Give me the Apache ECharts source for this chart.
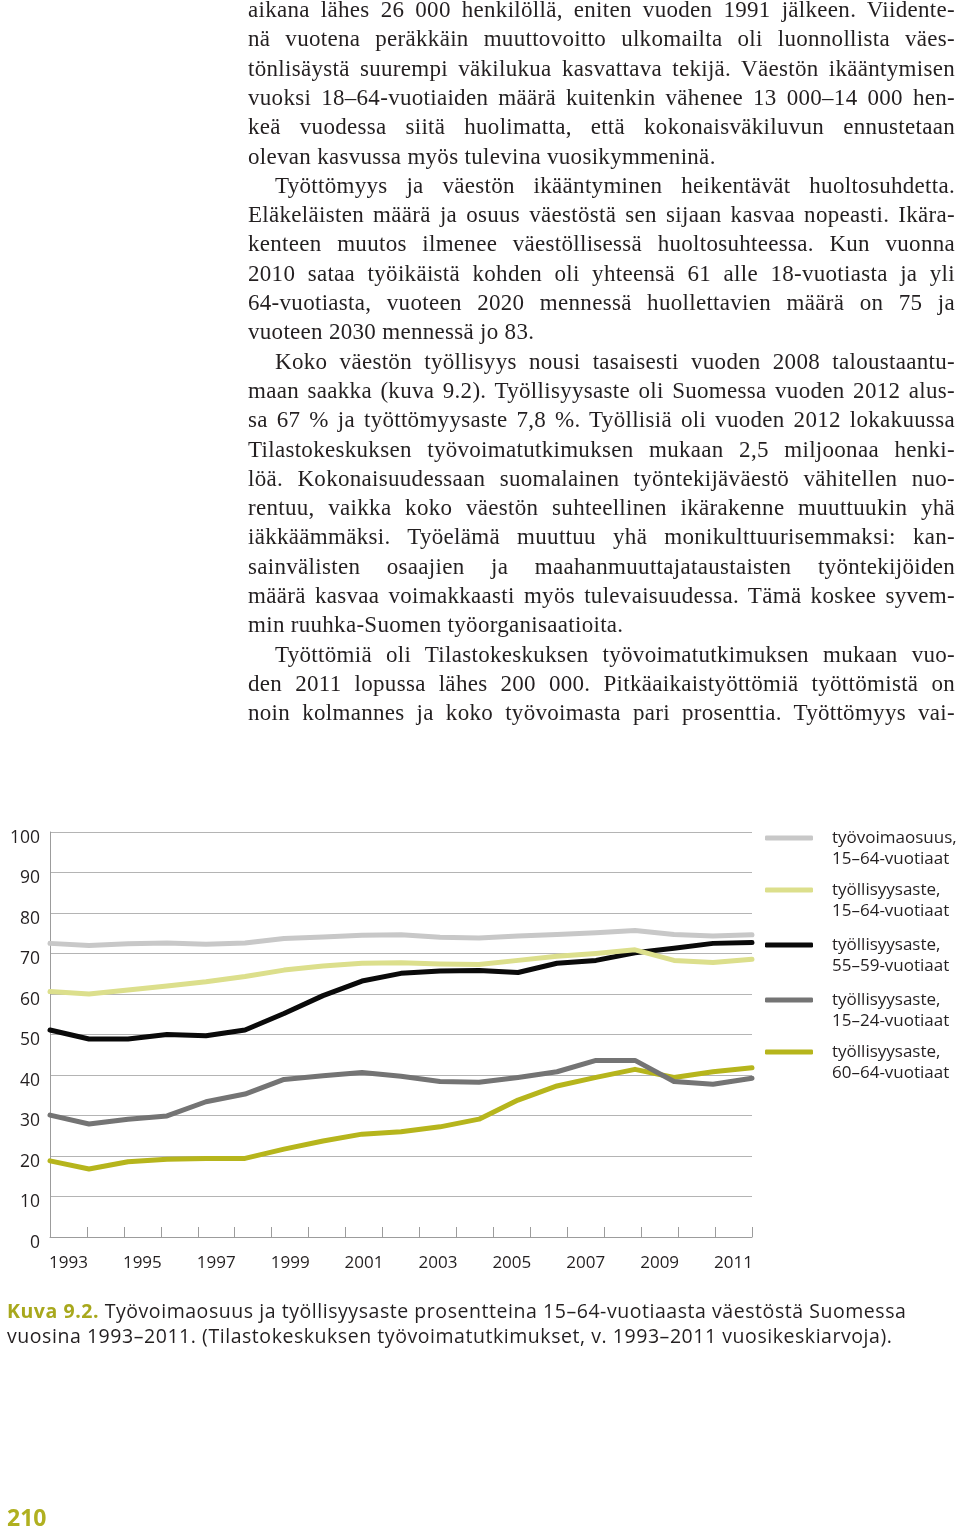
<!DOCTYPE html>
<html>
<head>
<meta charset="utf-8">
<script src="https://cdn.jsdelivr.net/npm/echarts@6/dist/echarts.min.js"></script>
<style>
html,body{margin:0;padding:0;background:#fff;}
#page{position:relative;width:960px;height:1528px;overflow:hidden;background:#fff;}
#chart{position:absolute;left:0;top:0;width:960px;height:1528px;}
.bl{position:absolute;white-space:nowrap;font-family:"Liberation Serif","Times New Roman",serif;font-size:23px;letter-spacing:0.3px;line-height:29.3px;color:#231f20;}
.cap{position:absolute;white-space:nowrap;font-family:"Open Sans",sans-serif;font-size:19.5px;letter-spacing:0.55px;line-height:25px;color:#231f20;}
.cap b{color:#a8a81c;font-weight:700;}
#pnum{position:absolute;left:7px;top:1502px;font-family:"Open Sans",sans-serif;font-weight:700;font-size:23px;line-height:30px;color:#b0b020;}
</style>
</head>
<body>
<div id="page">
  <div id="chart"></div>
  <div id="text"></div>
  <div class="cap" style="left:7px;top:1298px;"><b>Kuva 9.2.</b> Työvoimaosuus ja työllisyysaste prosentteina 15–64-vuotiaasta väestöstä Suomessa</div>
  <div class="cap" style="left:7px;top:1323px;">vuosina 1993–2011. (Tilastokeskuksen työvoimatutkimukset, v. 1993–2011 vuosikeskiarvoja).</div>
  <div id="pnum">210</div>
</div>
<script>
// ---- data ----
var years = ['1993','1994','1995','1996','1997','1998','1999','2000','2001','2002','2003','2004','2005','2006','2007','2008','2009','2010','2011'];
var tyovoimaosuus_15_64 = [72.5,72.0,72.4,72.6,72.3,72.6,73.7,74.1,74.5,74.6,74.0,73.8,74.3,74.7,75.1,75.7,74.7,74.3,74.6];
var tyollisyysaste_15_64 = [60.6,60.0,61.0,62.0,63.0,64.3,65.9,66.9,67.6,67.7,67.4,67.3,68.3,69.3,70.0,70.9,68.3,67.8,68.6];
var tyollisyysaste_55_59 = [51.1,48.9,48.9,50.0,49.7,51.1,55.2,59.6,63.2,65.1,65.7,65.8,65.3,67.6,68.3,70.2,71.3,72.5,72.7];
var tyollisyysaste_15_24 = [30.1,27.9,29.1,29.9,33.4,35.3,38.9,39.8,40.6,39.7,38.4,38.2,39.4,40.8,43.6,43.6,38.4,37.7,39.2];
var tyollisyysaste_60_64 = [18.8,16.8,18.6,19.2,19.4,19.4,21.7,23.7,25.4,26.0,27.2,29.1,33.8,37.3,39.4,41.4,39.4,40.8,41.8];
var seriesNames = ['työvoimaosuus,\n15–64-vuotiaat','työllisyysaste,\n15–64-vuotiaat','työllisyysaste,\n55–59-vuotiaat','työllisyysaste,\n15–24-vuotiaat','työllisyysaste,\n60–64-vuotiaat'];
var seriesData = [tyovoimaosuus_15_64, tyollisyysaste_15_64, tyollisyysaste_55_59, tyollisyysaste_15_24, tyollisyysaste_60_64];
var seriesColors = ['#c8c8c8','#dcdf8c','#0a0a0a','#747474','#b6b51c'];
var yMin = 0, yMax = 100, yStep = 10;

// ---- body text ----
var bodyLines = [
 ['aikana lähes 26 000 henkilöllä, eniten vuoden 1991 jälkeen. Viidente-',0,0],
 ['nä vuotena peräkkäin muuttovoitto ulkomailta oli luonnollista väes-',0,0],
 ['tönlisäystä suurempi väkilukua kasvattava tekijä. Väestön ikääntymisen',0,0],
 ['vuoksi 18–64-vuotiaiden määrä kuitenkin vähenee 13 000–14 000 hen-',0,0],
 ['keä vuodessa siitä huolimatta, että kokonaisväkiluvun ennustetaan',0,0],
 ['olevan kasvussa myös tulevina vuosikymmeninä.',0,1],
 ['Työttömyys ja väestön ikääntyminen heikentävät huoltosuhdetta.',1,0],
 ['Eläkeläisten määrä ja osuus väestöstä sen sijaan kasvaa nopeasti. Ikära-',0,0],
 ['kenteen muutos ilmenee väestöllisessä huoltosuhteessa. Kun vuonna',0,0],
 ['2010 sataa työikäistä kohden oli yhteensä 61 alle 18-vuotiasta ja yli',0,0],
 ['64-vuotiasta, vuoteen 2020 mennessä huollettavien määrä on 75 ja',0,0],
 ['vuoteen 2030 mennessä jo 83.',0,1],
 ['Koko väestön työllisyys nousi tasaisesti vuoden 2008 taloustaantu-',1,0],
 ['maan saakka (kuva 9.2). Työllisyysaste oli Suomessa vuoden 2012 alus-',0,0],
 ['sa 67 % ja työttömyysaste 7,8 %. Työllisiä oli vuoden 2012 lokakuussa',0,0],
 ['Tilastokeskuksen työvoimatutkimuksen mukaan 2,5 miljoonaa henki-',0,0],
 ['löä. Kokonaisuudessaan suomalainen työntekijäväestö vähitellen nuo-',0,0],
 ['rentuu, vaikka koko väestön suhteellinen ikärakenne muuttuukin yhä',0,0],
 ['iäkkäämmäksi. Työelämä muuttuu yhä monikulttuurisemmaksi: kan-',0,0],
 ['sainvälisten osaajien ja maahanmuuttajataustaisten työntekijöiden',0,0],
 ['määrä kasvaa voimakkaasti myös tulevaisuudessa. Tämä koskee syvem-',0,0],
 ['min ruuhka-Suomen työorganisaatioita.',0,1],
 ['Työttömiä oli Tilastokeskuksen työvoimatutkimuksen mukaan vuo-',1,0],
 ['den 2011 lopussa lähes 200 000. Pitkäaikaistyöttömiä työttömistä on',0,0],
 ['noin kolmannes ja koko työvoimasta pari prosenttia. Työttömyys vai-',0,0]
];
(function(){
  var host = document.getElementById('text');
  var L = 248, R = 955, IND = 27, top0 = -5, lh = 29.3;
  bodyLines.forEach(function(l, i){
    var d = document.createElement('div');
    d.className = 'bl';
    var left = L + (l[1] ? IND : 0);
    d.style.left = left + 'px';
    d.style.top = (top0 + i*lh) + 'px';
    var s = document.createElement('span');
    s.textContent = l[0];
    d.appendChild(s);
    host.appendChild(d);
    if (!l[2]) {
      var nat = s.getBoundingClientRect().width;
      var target = R - left;
      var spaces = (l[0].match(/ /g) || []).length;
      if (spaces > 0) s.style.wordSpacing = ((target - nat) / spaces) + 'px';
    }
  });
})();

// ---- chart ----
var chart = echarts.init(document.getElementById('chart'), null, {renderer:'canvas'});
var legendTops = [806.5, 858.5, 913.5, 968.5, 1020.5];
var legends = seriesNames.map(function(n, i){
  return {
    data: [n], left: 765, top: legendTops[i], orient: 'vertical', padding: 0,
    itemWidth: 48, itemHeight: 5, itemGap: 19, icon: 'roundRect', selectedMode: false,
    formatter: function(name){ return ' \n' + name; },
    textStyle: {fontFamily:'Open Sans', fontSize:17, lineHeight:21, color:'#231f20', padding:[0,0,0,14]}
  };
});
var series = seriesData.map(function(d, i){
  return {
    name: seriesNames[i], type: 'line', data: d, xAxisIndex: 0, yAxisIndex: 0,
    showSymbol: false, symbol: 'none', smooth: false, color: seriesColors[i],
    lineStyle: {color: seriesColors[i], width: 5, cap: 'round', join: 'round'},
    z: 10 - i, animation: false
  };
});
chart.setOption({
  animation: false,
  backgroundColor: 'transparent',
  grid: {left: 50, right: 208, top: 832, bottom: 291, containLabel: false},
  legend: legends,
  xAxis: [
    {type:'category', data: years, boundaryGap:false, axisLine:{show:false}, axisTick:{show:false}, axisLabel:{show:false}, splitLine:{show:false}},
    {type:'category', data: years, boundaryGap:true, position:'bottom',
     axisLine:{show:true, lineStyle:{color:'#9c9c9c', width:1}},
     axisTick:{show:true, inside:true, length:10, interval:0, lineStyle:{color:'#9c9c9c'}},
     axisLabel:{interval:1, margin:18, fontFamily:'Open Sans', fontSize:17, color:'#231f20'},
     splitLine:{show:false}}
  ],
  yAxis: {type:'value', min:yMin, max:yMax, interval:yStep,
    axisLine:{show:true, lineStyle:{color:'#9c9c9c', width:1}},
    axisTick:{show:false},
    splitLine:{show:true, lineStyle:{color:'#b4b4b4', width:1}},
    axisLabel:{margin:10, fontFamily:'Open Sans', fontSize:17.5, color:'#231f20', verticalAlign:'top', lineHeight:12}
  },
  series: series
});
</script>
</body>
</html>
